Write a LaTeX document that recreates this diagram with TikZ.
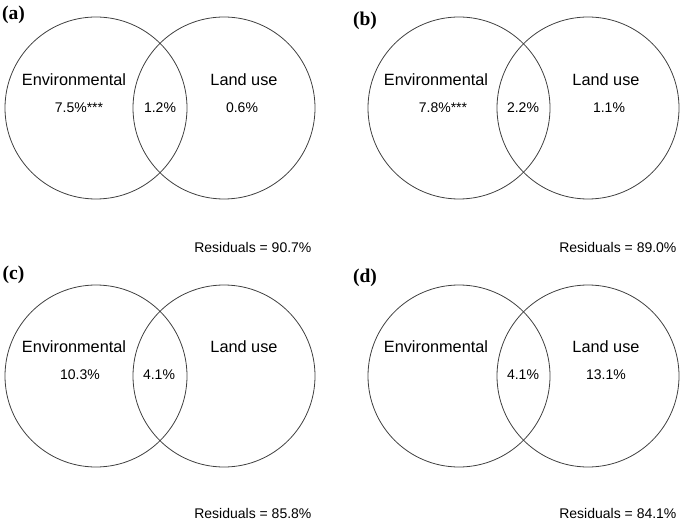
\documentclass[tikz,border=0pt]{standalone}
\usepackage{fontspec}
\setmainfont{Liberation Sans}
\newfontfamily\panelfont{Liberation Serif}
\usepackage{xcolor}
\definecolor{vennline}{HTML}{404040}

\begin{document}
\begin{tikzpicture}[
    x=1pt, y=-1pt,
    setcircle/.style={circle, draw=vennline, line width=0.8pt,
      minimum size=182pt, inner sep=0pt},
    setname/.style={font=\fontsize{16.3}{19}\selectfont},
    share/.style={font=\fontsize{14}{17}\selectfont},
    residual/.style={share, anchor=east},
    panel/.style={font=\panelfont\bfseries\fontsize{19.5}{22}\selectfont}
  ]
    \useasboundingbox (0,0) rectangle (685,521);

    % (a)
    \node[panel] (labA) at (13.5,15) {(a)};
    \node[setcircle] (envA) at (96,108) {};
    \node[setcircle] (landA) at (224,108) {};
    \node[setname] (envnameA) at (74,80) {Environmental};
    \node[setname] (landnameA) at (244,80) {Land use};
    \node[share] (envshareA) at (79,108) {7.5\%***};
    \node[share] (bothA) at (160,108) {1.2\%};
    \node[share] (landshareA) at (242,108) {0.6\%};
    \node[residual] (resA) at (315,247) {Residuals = 90.7\%};

    % (b)
    \node[panel] (labB) at (365,21) {(b)};
    \node[setcircle] (envB) at (459,108) {};
    \node[setcircle] (landB) at (588,108) {};
    \node[setname] (envnameB) at (436,80) {Environmental};
    \node[setname] (landnameB) at (606,80) {Land use};
    \node[share] (envshareB) at (443,108) {7.8\%***};
    \node[share] (bothB) at (523,108) {2.2\%};
    \node[share] (landshareB) at (609,108) {1.1\%};
    \node[residual] (resB) at (680,247) {Residuals = 89.0\%};

    % (c)
    \node[panel] (labC) at (13.5,275) {(c)};
    \node[setcircle] (envC) at (96,376) {};
    \node[setcircle] (landC) at (224,376) {};
    \node[setname] (envnameC) at (74,347) {Environmental};
    \node[setname] (landnameC) at (244,347) {Land use};
    \node[share] (envshareC) at (80,375) {10.3\%};
    \node[share] (bothC) at (159,375) {4.1\%};
    \node[residual] (resC) at (315,513) {Residuals = 85.8\%};

    % (d)
    \node[panel] (labD) at (365,278) {(d)};
    \node[setcircle] (envD) at (459,376) {};
    \node[setcircle] (landD) at (588,376) {};
    \node[setname] (envnameD) at (436,347) {Environmental};
    \node[setname] (landnameD) at (606,347) {Land use};
    \node[share] (bothD) at (523,375) {4.1\%};
    \node[share] (landshareD) at (606,375) {13.1\%};
    \node[residual] (resD) at (680,513) {Residuals = 84.1\%};
  \end{tikzpicture}
\end{document}
